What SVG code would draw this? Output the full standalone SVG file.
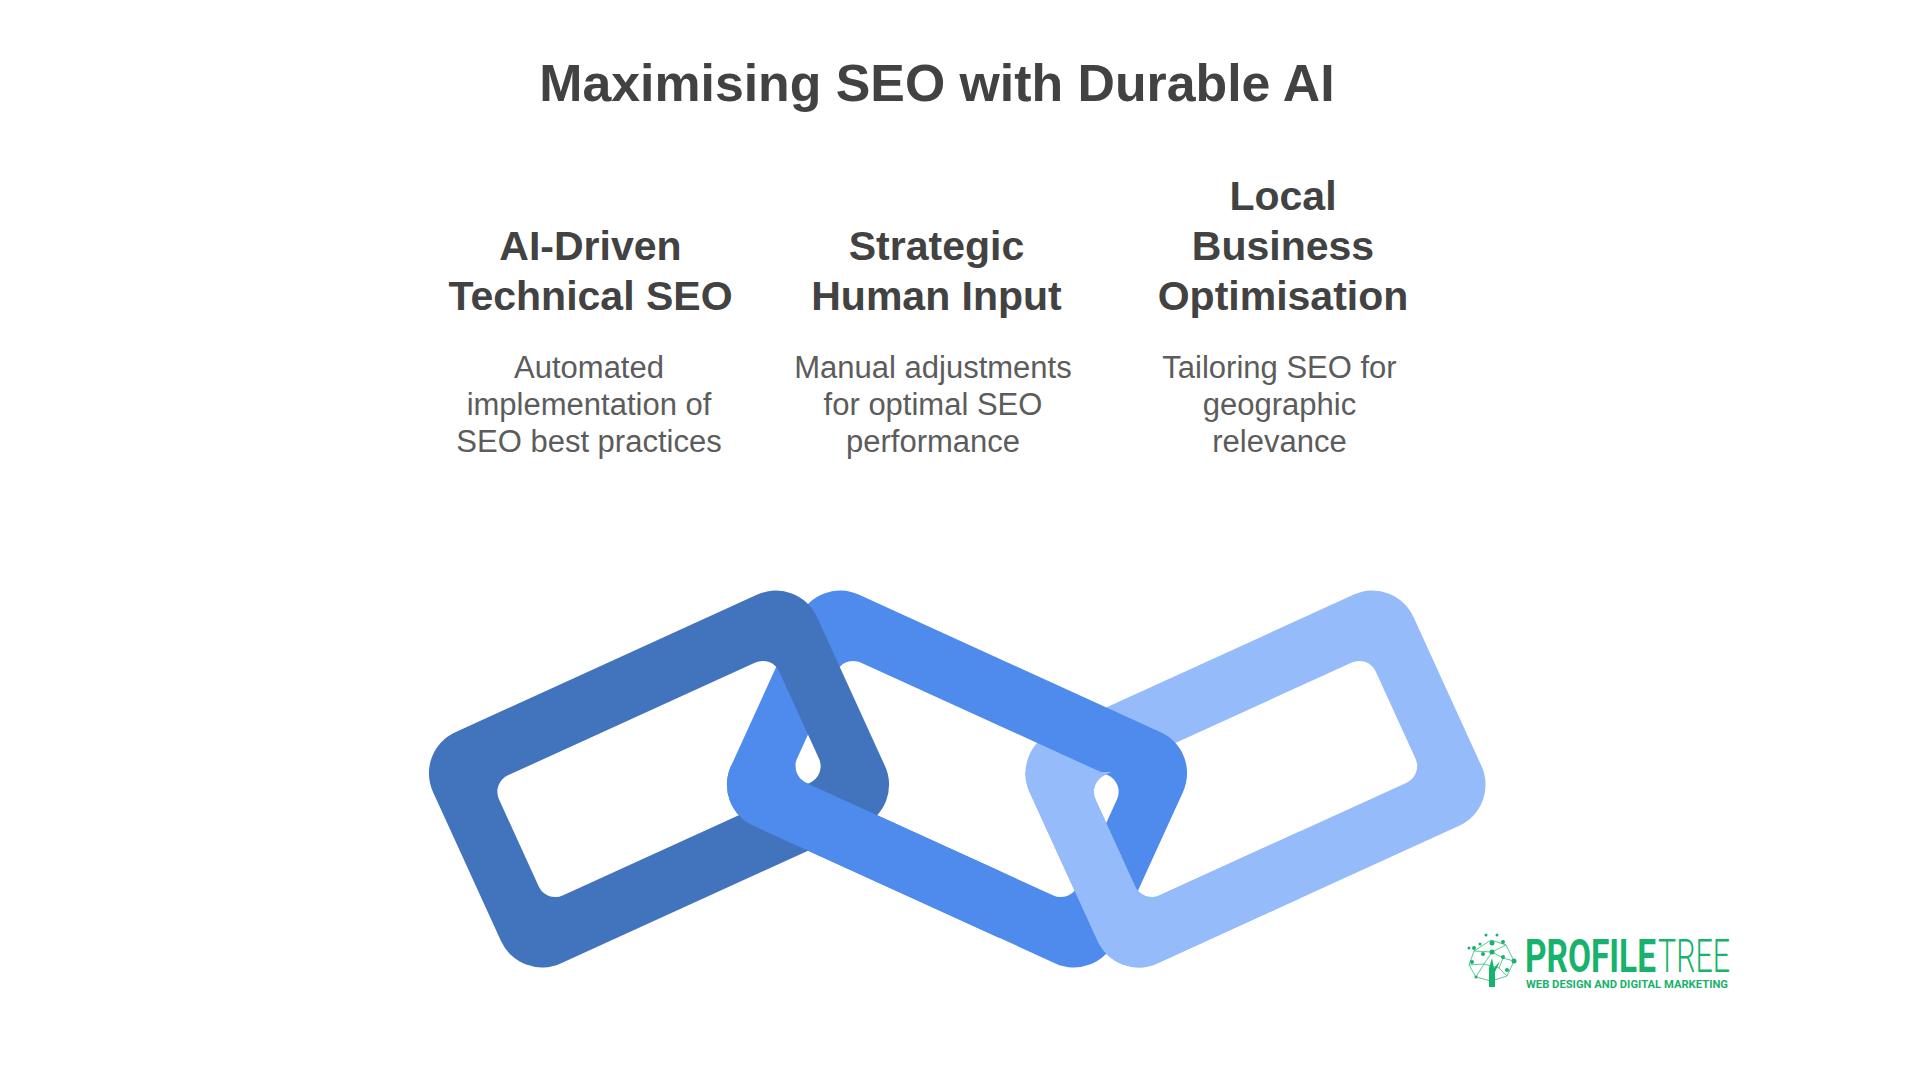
<svg xmlns="http://www.w3.org/2000/svg" xmlns:xlink="http://www.w3.org/1999/xlink" width="1920" height="1080" viewBox="0 0 1920 1080">
<style>
text{font-family:"Liberation Sans",Arial,sans-serif;text-anchor:middle}
.t{font-size:51.8px;font-weight:700;fill:#424242}
.h{font-size:41px;font-weight:700;fill:#424242}
.d{font-size:31px;fill:#5c5c5c}
.dark{fill:#4273bd;fill-rule:evenodd}
.mid{fill:#4e8bec;fill-rule:evenodd}
.light{fill:#95bbfa;fill-rule:evenodd}
.lg{fill:#17b26b;text-anchor:start;font-family:Roboto,"Liberation Sans",sans-serif}
.tl{stroke:#17b26b;stroke-width:1;fill:none;opacity:.7}
.tn{fill:#17b26b}
</style>
<defs>
<path id="ring" d="M-166,-127H166A45,45 0 0 1 211,-82V82A45,45 0 0 1 166,127H-166A45,45 0 0 1 -211,82V-82A45,45 0 0 1 -166,-127ZM-136,-66A18,18 0 0 0 -154,-48V48A18,18 0 0 0 -136,66H136A18,18 0 0 0 154,48V-48A18,18 0 0 0 136,-66Z"/>
<clipPath id="lowMid"><rect x="600" y="765" width="400" height="260"/></clipPath>
<clipPath id="lowLight"><rect x="1000" y="772" width="300" height="260"/></clipPath>
</defs>
<rect width="1920" height="1080" fill="#fff"/>
<text class="t" x="937" y="101">Maximising SEO with Durable AI</text>
<g id="node-ai-driven">
<text class="h" x="590.5" y="260">AI-Driven</text>
<text class="h" x="590.5" y="310">Technical SEO</text>
<text class="d" x="589" y="378">Automated</text>
<text class="d" x="589" y="415">implementation of</text>
<text class="d" x="589" y="452">SEO best practices</text>
</g>
<g id="node-strategic">
<text class="h" x="936.5" y="260">Strategic</text>
<text class="h" x="936.5" y="310">Human Input</text>
<text class="d" x="933" y="378">Manual adjustments</text>
<text class="d" x="933" y="415">for optimal SEO</text>
<text class="d" x="933" y="452">performance</text>
</g>
<g id="node-local">
<text class="h" x="1283" y="210">Local</text>
<text class="h" x="1283" y="260">Business</text>
<text class="h" x="1283" y="310">Optimisation</text>
<text class="d" x="1279.5" y="378">Tailoring SEO for</text>
<text class="d" x="1279.5" y="415">geographic</text>
<text class="d" x="1279.5" y="452">relevance</text>
</g>
<g id="chain">
<use xlink:href="#ring" href="#ring" class="light" transform="translate(1255.5 779) rotate(-24.5)"/>
<use xlink:href="#ring" href="#ring" class="mid" transform="translate(957 779) rotate(24.5)"/>
<use xlink:href="#ring" href="#ring" class="dark" transform="translate(659 779) rotate(-24.5)"/>
<g clip-path="url(#lowMid)"><use xlink:href="#ring" href="#ring" class="mid" transform="translate(957 779) rotate(24.5)"/></g>
<g clip-path="url(#lowLight)"><use xlink:href="#ring" href="#ring" class="light" transform="translate(1255.5 779) rotate(-24.5)"/></g>
</g>
<g id="logo">
<path class="tl" d="M1491,940L1474,951L1469,965L1476,977L1491,981L1507,976L1514,961L1506,945L1491,940M1474,951L1492,952L1506,945M1469,965L1484,964L1492,952L1503,958L1514,961M1476,977L1484,964L1499,968L1507,976M1499,968L1503,958M1491,981L1492,965"/>
<path class="tn" d="M1489,987L1489,968L1492,958L1494,968L1500,961L1495,972L1495,987Z"/>
<g class="tn">
<circle cx="1486" cy="935" r="1.5"/><circle cx="1497" cy="935" r="1.5"/><circle cx="1474" cy="948" r="2"/><circle cx="1492" cy="943" r="2.5"/><circle cx="1503" cy="942" r="2"/><circle cx="1469" cy="948" r="1.5"/><circle cx="1480" cy="944" r="1.5"/><circle cx="1472" cy="962" r="2"/><circle cx="1483" cy="954" r="2"/><circle cx="1492" cy="952" r="2.5"/><circle cx="1503" cy="957" r="2"/><circle cx="1514" cy="961" r="2.5"/><circle cx="1476" cy="977" r="1.5"/><circle cx="1507" cy="970" r="2"/>
</g>
<text class="lg" x="1525" y="972" font-size="46" font-weight="700" textLength="131" lengthAdjust="spacingAndGlyphs">PROFILE</text>
<text class="lg" x="1658" y="972" font-size="46" font-weight="300" textLength="72" lengthAdjust="spacingAndGlyphs">TREE</text>
<text class="lg" x="1526" y="988" font-size="11" font-weight="700" textLength="202" lengthAdjust="spacingAndGlyphs">WEB DESIGN AND DIGITAL MARKETING</text>
</g>
</svg>
